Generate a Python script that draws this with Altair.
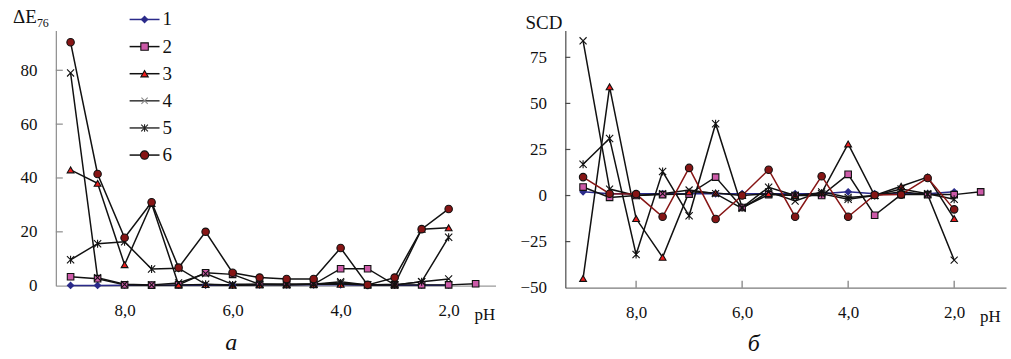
import altair as alt
import pandas as pd

# ---------------- data ----------------
ph = [9.0, 8.5, 8.0, 7.5, 7.0, 6.5, 6.0, 5.5, 5.0, 4.5, 4.0, 3.5, 3.0, 2.5, 2.0, 1.5]
series_names = ["1", "2", "3", "4", "5", "6"]

# panel a: dE76
de_1 = [0.1, 0.1, 0.2, 0.2, 0.2, 0.2, 0.2, 0.3, 0.3, 0.3, 0.3, 0.2, 0.2, 0.2, 0.2]
de_2 = [3.3, 2.6, 0.3, 0.2, 0.3, 4.8, 4.2, 0.5, 0.5, 0.5, 6.3, 6.3, 0.3, 0.3, 0.3, 0.7]
de_3 = [43, 38, 7.8, 30.5, 0.3, 0.4, 0.2, 0.3, 0.3, 0.5, 0.5, 0.3, 0.5, 21, 21.5]
de_4 = [79, 3, 0.5, 0.3, 1.0, 4.5, 0.5, 0.5, 0.3, 0.5, 1.5, 0.3, 0.3, 1.5, 2.5]
de_5 = [9.6, 15.6, 16.3, 6.2, 6.5, 0.5, 0.3, 0.5, 0.5, 0.5, 1.0, 0.3, 0.3, 1.5, 18]
de_6 = [90.4, 41.5, 17.8, 31, 6.7, 20, 4.8, 3.0, 2.5, 2.5, 14, 0.3, 3.0, 21, 28.5]

# panel b: SCD
scd_1 = [2, 1, 1, 1, 1, 1, 1, 1, 1, 1, 2, 1, 1, 1, 2]
scd_2 = [4.6, -1, 0, 0.5, 0.8, 10, -6.5, 0.5, 0, 0, 11.5, -10.7, 0.5, 0.5, 0.5, 2]
scd_3 = [-45, 59, -12.5, -33.5, 2, 1.4, 0, 1, 0, 1.5, 28, 0, 5, 10, -12.5]
scd_4 = [84, 3.5, 0, 1, 3, 1, -7, 2, -3, 2, -1, 0, 2, 0.5, -35]
scd_5 = [17, 31, -32, 13, -11, 39, -6.5, 4.5, 0, 1, -2, 0, 3.5, 1, -2]
scd_6 = [10, 1, 0.8, -11.5, 15, -12.7, 0, 14, -11.5, 10.5, -11.5, 0.3, 0.5, 9.5, -7.5]

x_ticks = [8.0, 6.0, 4.0, 2.0]
y_ticks_a = [0, 20, 40, 60, 80]
y_ticks_b = [-50, -25, 0, 25, 50, 75]


def long_frame(lists):
    rows = []
    for name, vals in zip(series_names, lists):
        for p, v in zip(ph, vals):
            rows.append({"ph": p, "value": v, "s": name})
    return pd.DataFrame(rows)


df_a = long_frame([de_1, de_2, de_3, de_4, de_5, de_6])
df_b = long_frame([scd_1, scd_2, scd_3, scd_4, scd_5, scd_6])

# ---------------- styles ----------------
FONT = "Liberation Serif, Times New Roman, DejaVu Serif, serif"
NAVY = "#2a2a8a"
PINK = "#cc5aa8"
RED = "#ee1c1c"
DRED = "#861515"
X_PATH = "M-1,-1L1,1M-1,1L1,-1"
AST_PATH = "M-1,-1L1,1M-1,1L1,-1M0,-1.1L0,1.1"

shapes = ["diamond", "square", "triangle-up", X_PATH, AST_PATH, "circle"]
fills = [NAVY, PINK, RED, "transparent", "transparent", DRED]
strokes = [NAVY, "#111111", "#111111", "#111111", "#111111", "#111111"]
sizes = [40, 56, 55, 40, 45, 70]
line_a = [NAVY, "#111111", "#111111", "#111111", "#111111", "#111111"]
line_b = [NAVY, "#111111", "#111111", "#111111", "#111111", DRED]

label_expr = "replace(format(datum.value, '.1f'), '.', ',')"


def panel(df, xdom, ydom, yvals, w, h, line_colors, axis_col_y, axis_col_x, inner_x_ticks, ytick_len):
    xs = alt.Scale(domain=xdom, nice=False, zero=False)
    ys = alt.Scale(domain=ydom, nice=False, zero=False)
    xax = alt.Axis(values=x_ticks, labelExpr=label_expr, grid=False, ticks=False, tickSize=0,
                   labelPadding=17, labelFont=FONT, labelFontSize=17, labelColor="#111",
                   domainColor=axis_col_x, domainWidth=1.2, title=None)
    yax = alt.Axis(values=yvals, grid=False, ticks=False, tickSize=0, labelPadding=19,
                   labelFont=FONT, labelFontSize=17, labelColor="#111",
                   domainColor=axis_col_y, domainWidth=1.2, title=None)
    xenc = alt.X("ph:Q", scale=xs, axis=xax)
    yenc = alt.Y("value:Q", scale=ys, axis=yax)
    dom = series_names
    lines = alt.Chart(df).mark_line(strokeWidth=1.5).encode(
        x=xenc, y=yenc,
        color=alt.Color("s:N", scale=alt.Scale(domain=dom, range=line_colors), legend=None),
    )
    points = alt.Chart(df).mark_point(opacity=1, strokeWidth=1.1).encode(
        x=xenc, y=yenc,
        shape=alt.Shape("s:N", scale=alt.Scale(domain=dom, range=shapes), legend=None),
        fill=alt.Fill("s:N", scale=alt.Scale(domain=dom, range=fills), legend=None),
        stroke=alt.Stroke("s:N", scale=alt.Scale(domain=dom, range=strokes), legend=None),
        size=alt.Size("s:N", scale=alt.Scale(domain=dom, range=sizes), legend=None),
    )
    yt = alt.Chart(pd.DataFrame({"value": [v for v in yvals if v != ydom[0]]})).mark_rule(
        color=axis_col_y, strokeWidth=1.2).encode(y=yenc, x=alt.value(0), x2=alt.value(ytick_len))
    layers = [lines, points, yt]
    if inner_x_ticks:
        xt = alt.Chart(pd.DataFrame({"ph": x_ticks})).mark_rule(
            color=axis_col_x, strokeWidth=1.2).encode(x=xenc, y=alt.value(h), y2=alt.value(h - 7))
        layers.append(xt)
    return layers, w, h


one = pd.DataFrame({"k": [0]})


def text(t, x, y, size=17, align="left", baseline="alphabetic", style="normal"):
    return alt.Chart(one).mark_text(text=t, font=FONT, fontSize=size, align=align,
                                    baseline=baseline, fontStyle=style, color="#111").encode(
        x=alt.value(x), y=alt.value(y))


# ---------- left panel ----------
la, wa, ha = panel(df_a, [9.273, 1.132], [0, 94.8], y_ticks_a, 441, 256, line_a,
                   "#8c8c8c", "#9a9a9a", False, 7)
la.append(text("ΔE", -43, -7, size=19))
la.append(text("76", -19, -3, size=12))
la.append(text("pH", 420, 290))
la.append(text("а", 176, 321, size=24, align="center", style="italic"))

legend_line = [NAVY, "#111111", "#111111", "#333333", "#333333", "#111111"]
legend_stroke = [NAVY, "#111111", "#111111", "#8a8a8a", "#222222", "#111111"]
for i, name in enumerate(series_names):
    yy = -11 + 27.2 * i
    la.append(alt.Chart(one).mark_rule(color=legend_line[i], strokeWidth=1.5).encode(
        x=alt.value(74), x2=alt.value(104), y=alt.value(yy)))
    la.append(alt.Chart(one).mark_point(opacity=1, strokeWidth=1.1).encode(
        x=alt.value(89), y=alt.value(yy), shape=alt.value(shapes[i]), fill=alt.value(fills[i]),
        stroke=alt.value(legend_stroke[i]), size=alt.value(sizes[i])))
    la.append(text(name, 107, yy, size=19, baseline="middle"))

left = alt.layer(*la).properties(width=wa, height=ha)

# ---------- right panel ----------
lb, wb, hb = panel(df_b, [9.335, 1.022], [-50, 89.6], y_ticks_b, 442, 258, line_b,
                   "#4a4a4a", "#7a7a7a", True, 5)
lb.append(text("SCD", -3, -1, size=19, align="right"))
lb.append(text("pH", 416, 292))
lb.append(text("б", 189, 322, size=24, align="center", style="italic"))
right = alt.layer(*lb).properties(width=wb, height=hb)

chart = alt.hconcat(left, right, spacing=24).resolve_scale(
    color="independent"
).properties(
    padding={"left": 13, "top": 8, "right": 5, "bottom": 0},
    background="white",
).configure_view(stroke=None)

chart.save("out.html", embed_options={"renderer": "svg", "actions": False})
